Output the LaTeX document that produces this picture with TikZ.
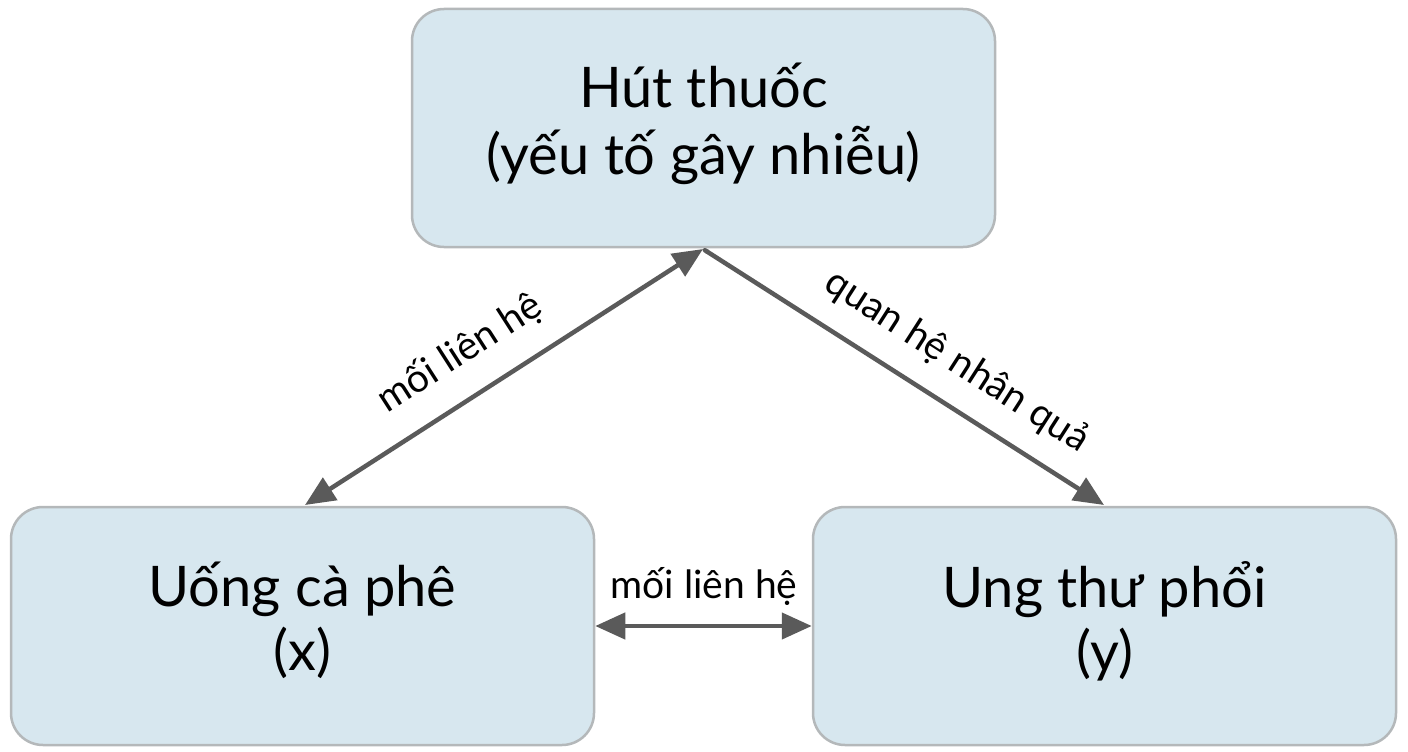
\documentclass[tikz,border=0pt]{standalone}
\usepackage{fontspec}
\setmainfont{Lato}
\usetikzlibrary{arrows.meta}
\definecolor{boxfill}{HTML}{D7E7EF}
\definecolor{boxline}{HTML}{B4B8BA}
\definecolor{arr}{HTML}{5A5A5A}
\begin{document}
\begin{tikzpicture}[x=1pt,y=-1pt,
 box/.style={draw=boxline,line width=2.5pt,fill=boxfill,rounded corners=32pt,minimum width=583pt,minimum height=238pt,align=center,font=\fontsize{56}{64}\selectfont,inner sep=0pt},
 con/.style={draw=arr,line width=4.5pt,{Triangle[length=30pt,width=26pt]}-{Triangle[length=30pt,width=26pt]}},
 lab/.style={font=\fontsize{39}{44}\selectfont,inner sep=0pt}]
\useasboundingbox (0,0) rectangle (1408,752);
\node[box] (top) at (703.5,128) {\raisebox{-4pt}{\begin{tabular}{@{}c@{}}Hút thuốc\\(yếu tố gây nhiễu)\end{tabular}}};
\node[box] (x) at (302.5,626) {\raisebox{-4pt}{\begin{tabular}{@{}c@{}}Uống cà phê\\(x)\end{tabular}}};
\node[box] (y) at (1104.5,626) {\raisebox{-4pt}{\begin{tabular}{@{}c@{}}Ung thư phổi\\(y)\end{tabular}}};
\coordinate (apex) at (703,249);
\coordinate (xa) at (305,505);
\coordinate (ya) at (1104,505);
\draw[con] (apex) -- (xa);
\draw[con,{Round Cap}-{Triangle[length=30pt,width=26pt]}] (apex) -- (ya);
\draw[con] (x.east) -- (y.east -| y.west);
\node[lab,rotate=32.7] (l1) at (460,353) {mối liên hệ};
\node[lab,rotate=-32.7] (l2) at (957,362) {quan hệ nhân quả};
\node[lab] (l3) at (704,587) {mối liên hệ};
\end{tikzpicture}
\end{document}
